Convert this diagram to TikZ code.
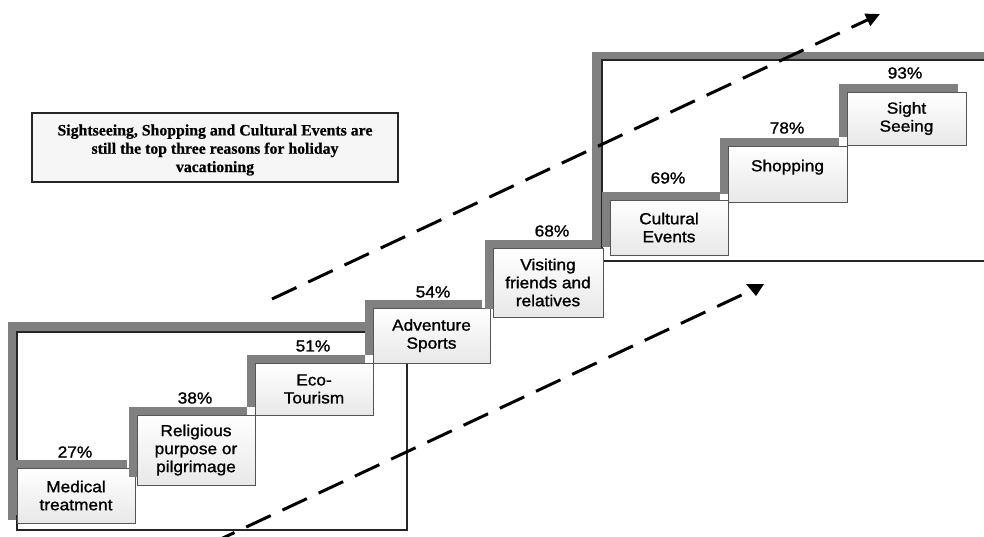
\documentclass[tikz,border=0pt]{standalone}
\usepackage{fontspec}
\setmainfont{Liberation Sans}
\newfontfamily\stepfont{Liberation Sans}[FakeStretch=1.08,FakeBold=1.2]
\newfontfamily\notefont{Liberation Serif}[FakeBold=0.6]
\usetikzlibrary{shadows,arrows.meta}
\definecolor{shadowgray}{HTML}{808080}
\definecolor{edgedark}{HTML}{262626}
\definecolor{boxedge}{HTML}{555555}
\definecolor{notefill}{HTML}{F6F6F6}
\tikzset{
  stepbox/.style={draw=boxedge, line width=1pt, top color=white, bottom color=black!9,
    minimum width=118pt, inner sep=0pt, align=center,
    font=\stepfont\fontsize{16}{18}\selectfont,
    general shadow={fill=shadowgray, shadow xshift=-8pt, shadow yshift=8pt}},
  pct/.style={font=\stepfont\fontsize{16}{18}\selectfont, inner sep=0pt},
  bigshade/.style={fill=shadowgray},
  bigframe/.style={draw=edgedark, fill=white, line width=2.5pt},
  trend/.style={line width=3pt, dash pattern=on 27pt off 13pt}
}
\begin{document}
\begin{tikzpicture}[x=1pt,y=-1pt]
\clip (0,0) rectangle (984,536);
\fill[white] (0,0) rectangle (984,536);
% big frames
\fill[bigshade] (8,322) rectangle (398,520);
\draw[bigframe] (17,332) rectangle (407,530);
\fill[bigshade] (592,52) rectangle (1000,253);
\draw[bigframe] (602,60) rectangle (1010,261);
% note box
\node[draw=edgedark, line width=2pt, fill=notefill, minimum width=366pt, minimum height=69pt,
  inner sep=0pt] (notebox) at (215,147.5) {};
\node[align=center, inner sep=0pt, font=\notefont\bfseries\fontsize{15.8}{18.3}\selectfont] (note)
  at ([yshift=-2.5pt]notebox.center)
  {Sightseeing, Shopping and Cultural Events are\\still the top three reasons for holiday\\vacationing};
% steps
\node[stepbox, minimum height=55pt] (b1) at (76,495.5) {Medical\\treatment};
\node[stepbox, minimum height=70pt] (b2) at (196,450) {Religious\\purpose or\\pilgrimage};
\node[stepbox, minimum height=52pt] (b3) at (314,389) {Eco-\\Tourism};
\node[stepbox, minimum height=55pt, minimum width=117pt] (b4) at (431.5,335.5) {Adventure\\Sports};
\node[stepbox, minimum height=69pt, minimum width=110pt] (b5) at (548,282.5) {Visiting\\friends and\\relatives};
\node[stepbox, minimum height=55pt] (b6) at (669,227.5) {Cultural\\Events};
\node[stepbox, minimum height=56pt, minimum width=119pt, text depth=17pt] (b7) at (787.5,174) {Shopping};
\node[stepbox, minimum height=53pt, minimum width=119pt] (b8) at (906.5,118.5) {Sight\\Seeing};
% percentages
\node[pct] (p1) at (75,452) {27\%};
\node[pct] (p2) at (195,398) {38\%};
\node[pct] (p3) at (313,346) {51\%};
\node[pct] (p4) at (433,292) {54\%};
\node[pct] (p5) at (552,231) {68\%};
\node[pct] (p6) at (668,178) {69\%};
\node[pct] (p7) at (787,128) {78\%};
\node[pct] (p8) at (905,73) {93\%};
% trend arrows
\coordinate (u0) at (272,299);
\coordinate (u1) at (880,14);
\coordinate (l0) at (210,544);
\coordinate (l1) at (748,292);
\draw[trend, -{Triangle[length=14pt,width=13pt]}] (u0) -- (u1);
\draw[trend] (l0) -- (l1);
\fill[black] (746,284) -- (764,284) -- (756,296) -- cycle;
\end{tikzpicture}
\end{document}
